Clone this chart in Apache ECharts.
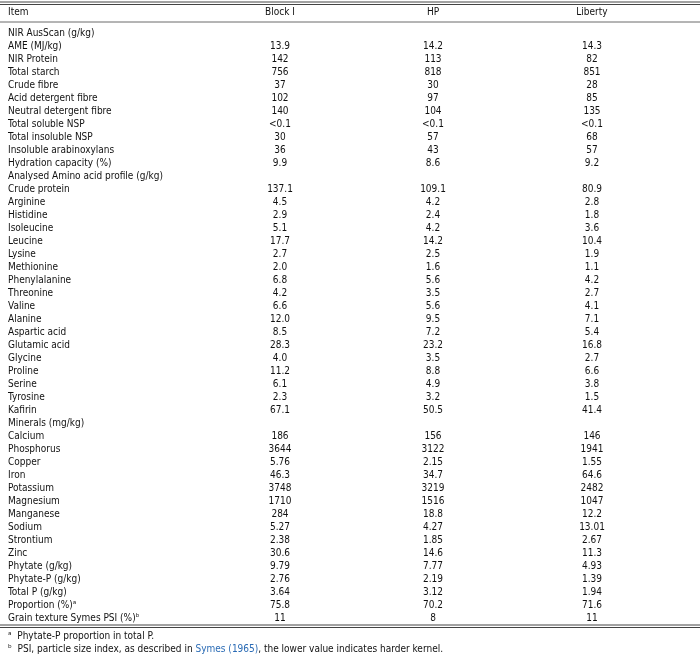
<!DOCTYPE html>
<html>
<head>
<meta charset="utf-8">
<script src="https://cdn.jsdelivr.net/npm/echarts@6/dist/echarts.min.js"></script>
<style>html,body{margin:0;padding:0;background:#fff}#table-chart{width:700px;height:658px}</style>
</head>
<body>
<div id="table-chart"></div>
<script>
// table data
const columns = ['Item', 'Block I', 'HP', 'Liberty'];
const items = [
    'NIR AusScan (g/kg)', 'AME (MJ/kg)', 'NIR Protein', 'Total starch', 'Crude fibre',
    'Acid detergent fibre', 'Neutral detergent fibre', 'Total soluble NSP', 'Total insoluble NSP',
    'Insoluble arabinoxylans', 'Hydration capacity (%)', 'Analysed Amino acid profile (g/kg)',
    'Crude protein', 'Arginine', 'Histidine', 'Isoleucine', 'Leucine', 'Lysine', 'Methionine',
    'Phenylalanine', 'Threonine', 'Valine', 'Alanine', 'Aspartic acid', 'Glutamic acid', 'Glycine',
    'Proline', 'Serine', 'Tyrosine', 'Kafirin', 'Minerals (mg/kg)', 'Calcium', 'Phosphorus',
    'Copper', 'Iron', 'Potassium', 'Magnesium', 'Manganese', 'Sodium', 'Strontium', 'Zinc',
    'Phytate (g/kg)', 'Phytate-P (g/kg)', 'Total P (g/kg)', 'Proportion (%)ᵃ', 'Grain texture Symes PSI (%)ᵇ'
];
const blockI = ['', '13.9', '142', '756', '37', '102', '140', '<0.1', '30', '36', '9.9', '',
    '137.1', '4.5', '2.9', '5.1', '17.7', '2.7', '2.0', '6.8', '4.2', '6.6', '12.0', '8.5', '28.3', '4.0',
    '11.2', '6.1', '2.3', '67.1', '', '186', '3644', '5.76', '46.3', '3748', '1710', '284', '5.27', '2.38',
    '30.6', '9.79', '2.76', '3.64', '75.8', '11'];
const hp = ['', '14.2', '113', '818', '30', '97', '104', '<0.1', '57', '43', '8.6', '',
    '109.1', '4.2', '2.4', '4.2', '14.2', '2.5', '1.6', '5.6', '3.5', '5.6', '9.5', '7.2', '23.2', '3.5',
    '8.8', '4.9', '3.2', '50.5', '', '156', '3122', '2.15', '34.7', '3219', '1516', '18.8', '4.27', '1.85',
    '14.6', '7.77', '2.19', '3.12', '70.2', '8'];
const liberty = ['', '14.3', '82', '851', '28', '85', '135', '<0.1', '68', '57', '9.2', '',
    '80.9', '2.8', '1.8', '3.6', '10.4', '1.9', '1.1', '4.2', '2.7', '4.1', '7.1', '5.4', '16.8', '2.7',
    '6.6', '3.8', '1.5', '41.4', '', '146', '1941', '1.55', '64.6', '2482', '1047', '12.2', '13.01', '2.67',
    '11.3', '4.93', '1.39', '1.94', '71.6', '11'];

function initChart() {
    const myChart = echarts.init(document.getElementById('table-chart'));
    const font = '"Liberation Sans Narrow", "DejaVu Sans Condensed", sans-serif';
    const colX = [8, 280, 433, 592];
    const rowTop = 33, rowStep = 13.0;
    const els = [];
    const txt = (x, y, s, align, fill) => els.push({
        type: 'text', x: x, y: y,
        style: { text: s, fill: fill || '#111', font: '10px ' + font, align: align, verticalAlign: 'middle' }
    });
    const line = (y, w) => els.push({
        type: 'line', shape: { x1: 0, y1: y, x2: 700, y2: y }, style: { stroke: '#444', lineWidth: w }
    });

    // rules
    line(2, 1); line(4.5, 1); line(22, 0.8); line(625, 1); line(627.5, 1);

    // header
    columns.forEach((c, i) => txt(colX[i], 12, c, i === 0 ? 'left' : 'center'));
    // body
    items.forEach((it, r) => {
        const y = rowTop + r * rowStep;
        txt(colX[0], y, it, 'left');
        [blockI, hp, liberty].forEach((col, c) => txt(colX[c + 1], y, col[r], 'center'));
    });
    // footnotes
    txt(8, 636, 'ᵃ  Phytate-P proportion in total P.', 'left');
    els.push({
        type: 'text', x: 8, y: 649,
        style: {
            text: '{a|ᵇ  PSI, particle size index, as described in }{b|Symes (1965)}{a|, the lower value indicates harder kernel.}',
            verticalAlign: 'middle',
            rich: {
                a: { fill: '#111', font: '10px ' + font },
                b: { fill: '#2a6bb5', font: '10px ' + font }
            }
        }
    });

    myChart.setOption({ animation: false, graphic: { elements: els } });
    window.addEventListener('resize', () => myChart.resize());
}

window.onload = initChart;
</script>
</body>
</html>
